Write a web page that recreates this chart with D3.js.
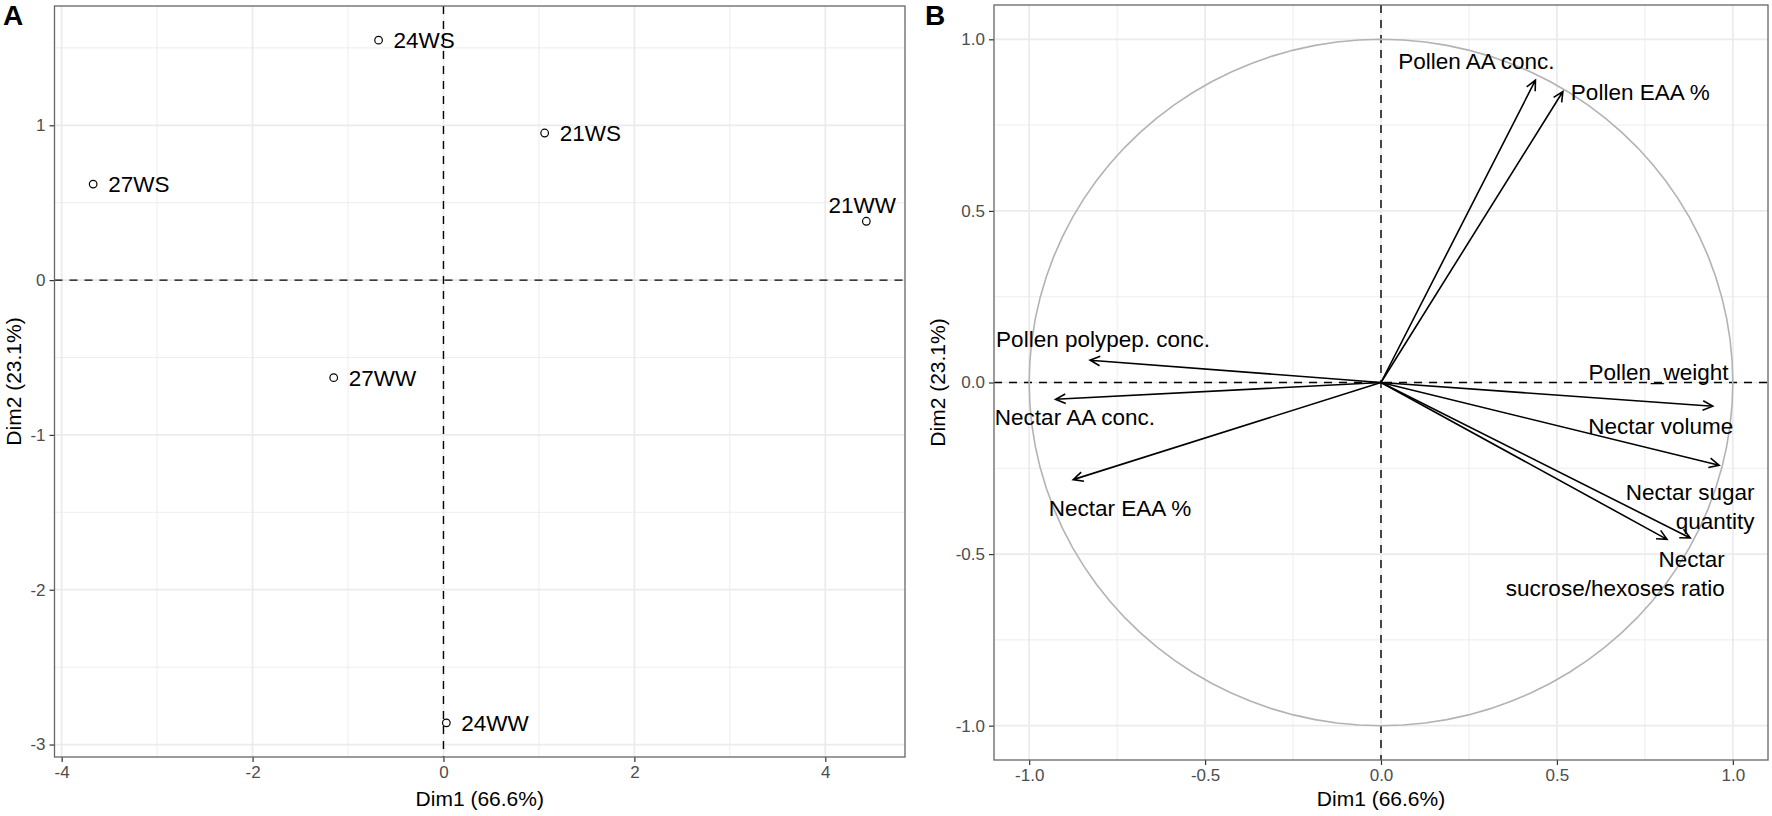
<!DOCTYPE html>
<html>
<head>
<meta charset="utf-8">
<script src="https://cdn.jsdelivr.net/npm/d3@7"></script>
<style>
  body { margin: 0; background: #fff; }
  text { font-family: "Liberation Sans", Arial, Helvetica, sans-serif; }
</style>
</head>
<body>
<svg id="chart" width="1772" height="816"></svg>
<script>
// --- panel A: individuals ---
const indNames = ["21WS", "21WW", "24WS", "24WW", "27WS", "27WW"];
const indDim1 = [1.06, 4.43, -0.68, 0.03, -3.67, -1.15];
const indDim2 = [0.95, 0.38, 1.55, -2.86, 0.62, -0.63];

// --- panel B: variables ---
const varNames = ["Pollen AA conc.", "Pollen EAA %", "Pollen polypep. conc.", "Nectar AA conc.",
  "Nectar EAA %", "Pollen_weight", "Nectar volume", "Nectar sugar\nquantity", "Nectar\nsucrose/hexoses ratio"];
const varDim1 = [0.439, 0.517, -0.827, -0.925, -0.875, 0.943, 0.961, 0.879, 0.813];
const varDim2 = [0.881, 0.848, 0.065, -0.049, -0.283, -0.069, -0.241, -0.453, -0.457];
// where the (repelled) labels ended up, in Dim units
const varLabelX = [0.271, 0.737, -0.790, -0.870, -0.742, 0.789, 0.795, 1.062, 0.977];
const varLabelY = [0.937, 0.845, 0.125, -0.102, -0.366, 0.031, -0.127, -0.361, -0.558];
const varLabelAnchor = ["middle", "middle", "middle", "middle", "middle", "middle", "middle", "end", "end"];

const ticksA_x = [-4, -2, 0, 2, 4];
const ticksA_y = [-3, -2, -1, 0, 1];
const ticksB = [-1, -0.5, 0, 0.5, 1];

const xTitle = "Dim1 (66.6%)";
const yTitle = "Dim2 (23.1%)";

const svg = d3.select("#chart");

function expand(ext, f) {
  const d = (ext[1] - ext[0]) * f;
  return [ext[0] - d, ext[1] + d];
}

// R prints a plain hyphen, d3 a unicode minus
const hyphen = f => v => f(v).replace("\u2212", "-");

const boxA = { l: 54.5, r: 905, t: 6, b: 757 };
const boxB = { l: 994, r: 1768, t: 5, b: 760 };

const xA = d3.scaleLinear().domain(expand(d3.extent(indDim1), 0.05)).range([boxA.l, boxA.r]);
const yA = d3.scaleLinear().domain(expand(d3.extent(indDim2), 0.05)).range([boxA.b, boxA.t]);
const xB = d3.scaleLinear().domain(expand([-1, 1], 0.05)).range([boxB.l, boxB.r]);
const yB = d3.scaleLinear().domain(expand([-1, 1], 0.05)).range([boxB.b, boxB.t]);

function midpoints(t) {
  let out = [];
  for (let i = 0; i < t.length - 1; i++) out.push((t[i] + t[i + 1]) / 2);
  return out;
}

// grid, ticks, tick labels
function frame(box, x, y, xt, yt, fmt) {
  const g = svg.append("g");
  const grid = g.append("g");
  const xMinor = midpoints(xt), yMinor = midpoints(yt);
  // ggplot also draws minor lines just outside the outer majors when there's room
  const xs = x.domain(), ys = y.domain();
  const stepX = xt[1] - xt[0], stepY = yt[1] - yt[0];
  [xt[0] - stepX / 2, xt[xt.length - 1] + stepX / 2].forEach(v => { if (v > xs[0] && v < xs[1]) xMinor.push(v); });
  [yt[0] - stepY / 2, yt[yt.length - 1] + stepY / 2].forEach(v => { if (v > ys[0] && v < ys[1]) yMinor.push(v); });

  grid.selectAll(".vmin").data(xMinor).join("line")
    .attr("x1", d => x(d)).attr("x2", d => x(d)).attr("y1", box.t).attr("y2", box.b)
    .attr("stroke", "#EBEBEB").attr("stroke-width", 0.9);
  grid.selectAll(".hmin").data(yMinor).join("line")
    .attr("y1", d => y(d)).attr("y2", d => y(d)).attr("x1", box.l).attr("x2", box.r)
    .attr("stroke", "#EBEBEB").attr("stroke-width", 0.9);
  grid.selectAll(".vmaj").data(xt).join("line")
    .attr("x1", d => x(d)).attr("x2", d => x(d)).attr("y1", box.t).attr("y2", box.b)
    .attr("stroke", "#EBEBEB").attr("stroke-width", 1.7);
  grid.selectAll(".hmaj").data(yt).join("line")
    .attr("y1", d => y(d)).attr("y2", d => y(d)).attr("x1", box.l).attr("x2", box.r)
    .attr("stroke", "#EBEBEB").attr("stroke-width", 1.7);

  const ax = g.append("g").attr("transform", `translate(0,${box.b})`)
    .call(d3.axisBottom(x).tickValues(xt).tickSize(5).tickPadding(4).tickFormat(fmt));
  const ay = g.append("g").attr("transform", `translate(${box.l},0)`)
    .call(d3.axisLeft(y).tickValues(yt).tickSize(5).tickPadding(4).tickFormat(fmt));
  [ax, ay].forEach(a => {
    a.select(".domain").remove();
    a.selectAll(".tick line").attr("stroke", "#333").attr("stroke-width", 1.2);
    a.selectAll(".tick text").attr("fill", "#4D4D4D").style("font-size", "17px")
      .style("font-family", "'Liberation Sans', Arial, sans-serif");
  });

  // zero reference lines
  g.append("line").attr("x1", x(0)).attr("x2", x(0)).attr("y1", box.t).attr("y2", box.b)
    .attr("stroke", "#000").attr("stroke-width", 1.4).attr("stroke-dasharray", "8,7");
  g.append("line").attr("y1", y(0)).attr("y2", y(0)).attr("x1", box.l).attr("x2", box.r)
    .attr("stroke", "#000").attr("stroke-width", 1.4).attr("stroke-dasharray", "8,7");
  return g;
}

function border(box) {
  svg.append("rect").attr("x", box.l).attr("y", box.t)
    .attr("width", box.r - box.l).attr("height", box.b - box.t)
    .attr("fill", "none").attr("stroke", "#666").attr("stroke-width", 1.3);
}

function titles(box, yTitleX, tag, tagX) {
  svg.append("text").attr("x", (box.l + box.r) / 2).attr("y", 806)
    .attr("text-anchor", "middle").style("font-size", "21px").attr("fill", "#000").text(xTitle);
  svg.append("text").attr("transform", `translate(${yTitleX},${(box.t + box.b) / 2}) rotate(-90)`)
    .attr("text-anchor", "middle").attr("dy", "0.35em").style("font-size", "21px").attr("fill", "#000").text(yTitle);
  svg.append("text").attr("x", tagX).attr("y", 25).style("font-size", "28px")
    .style("font-weight", "bold").text(tag);
}

// ---------- Panel A ----------
frame(boxA, xA, yA, ticksA_x, ticksA_y, hyphen(d3.format("d")));

const ind = indNames.map((n, i) => ({ name: n, x: indDim1[i], y: indDim2[i] }));
const gA = svg.append("g");
gA.selectAll("circle").data(ind).join("circle")
  .attr("cx", d => xA(d.x)).attr("cy", d => yA(d.y)).attr("r", 3.8)
  .attr("fill", "#fff").attr("stroke", "#000").attr("stroke-width", 1.2);

gA.selectAll("text.lab").data(ind).join("text")
  .attr("class", "lab")
  .style("font-size", "22.5px").attr("fill", "#000")
  .text(d => d.name)
  .each(function (d) {
    const t = d3.select(this);
    const px = xA(d.x), py = yA(d.y);
    const w = this.getComputedTextLength();
    if (px + 15 + w > boxA.r - 4) {
      // no room on the right: put it above the point
      t.attr("x", px - 4).attr("y", py - 16).attr("dy", "0.35em").attr("text-anchor", "middle");
    } else {
      t.attr("x", px + 15).attr("y", py).attr("dy", "0.35em").attr("text-anchor", "start");
    }
  });

border(boxA);
titles(boxA, 14, "A", 3);

// ---------- Panel B ----------
frame(boxB, xB, yB, ticksB, ticksB, hyphen(d3.format(".1f")));

// correlation circle
const circ = d3.range(0, 101).map(i => [Math.cos(2 * Math.PI * i / 100), Math.sin(2 * Math.PI * i / 100)]);
svg.append("path")
  .attr("d", d3.line().x(d => xB(d[0])).y(d => yB(d[1]))(circ))
  .attr("fill", "none").attr("stroke", "#B3B3B3").attr("stroke-width", 1.6);

const vars = varNames.map((n, i) => ({
  name: n, x: varDim1[i], y: varDim2[i], lx: varLabelX[i], ly: varLabelY[i], anchor: varLabelAnchor[i]
}));
const gB = svg.append("g");
gB.selectAll("path.arrow").data(vars).join("path")
  .attr("class", "arrow")
  .attr("d", d => {
    const x0 = xB(0), y0 = yB(0), x1 = xB(d.x), y1 = yB(d.y);
    const a = Math.atan2(y1 - y0, x1 - x0), L = 11, h = Math.PI / 7;
    const b1 = [x1 - L * Math.cos(a - h), y1 - L * Math.sin(a - h)];
    const b2 = [x1 - L * Math.cos(a + h), y1 - L * Math.sin(a + h)];
    return `M${x0},${y0}L${x1},${y1}M${b1[0]},${b1[1]}L${x1},${y1}L${b2[0]},${b2[1]}`;
  })
  .attr("fill", "none").attr("stroke", "#000").attr("stroke-width", 1.6);

gB.selectAll("text.vlab").data(vars).join("text")
  .attr("class", "vlab")
  .attr("x", d => xB(d.lx)).attr("y", d => yB(d.ly))
  .attr("text-anchor", d => d.anchor)
  .style("font-size", "22.5px").attr("fill", "#000")
  .each(function (d) {
    const lines = d.name.split("\n");
    const t = d3.select(this);
    lines.forEach((ln, k) => {
      t.append("tspan").attr("x", xB(d.lx))
        .attr("dy", k === 0 ? `${0.35 - (lines.length - 1) * 0.65}em` : "1.3em")
        .text(ln);
    });
  });

border(boxB);
titles(boxB, 938, "B", 925);
</script>
</body>
</html>
